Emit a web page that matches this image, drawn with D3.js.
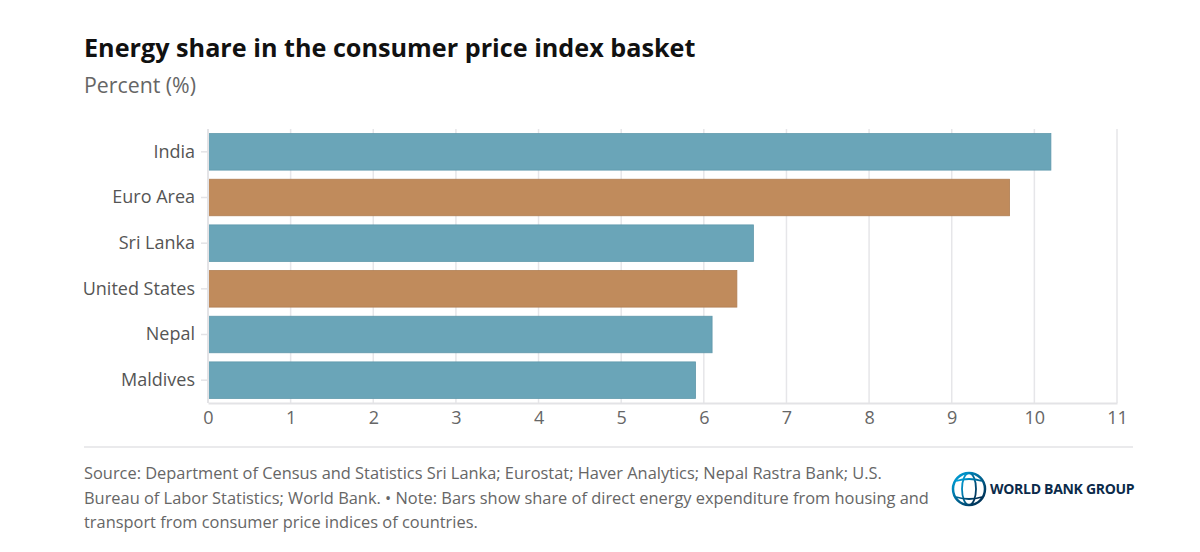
<!DOCTYPE html>
<html><head><meta charset="utf-8">
<script src="https://cdn.jsdelivr.net/npm/d3@7"></script>
<style>
body{margin:0;background:#fff;font-family:"Open Sans",sans-serif;}
</style></head><body>
<svg id="c" width="1200" height="552"></svg>
<script>
const categories = ["India","Euro Area","Sri Lanka","United States","Nepal","Maldives"];
const values = [10.2, 9.7, 6.6, 6.4, 6.1, 5.9];
const groups = ["region","advanced","region","advanced","region","region"];
const xTicks = [0,1,2,3,4,5,6,7,8,9,10,11];
const title = "Energy share in the consumer price index basket";
const subtitle = "Percent (%)";
const footLines = [
 "Source: Department of Census and Statistics Sri Lanka; Eurostat; Haver Analytics; Nepal Rastra Bank; U.S.",
 "Bureau of Labor Statistics; World Bank. \u2022 Note: Bars show share of direct energy expenditure from housing and",
 "transport from consumer price indices of countries."
];

const svg = d3.select("#c");
const colors = {region:"#6aa5b8", advanced:"#c08b5c"};
const strokes = {region:"#5f98ab", advanced:"#b07e52"};

const x = d3.scaleLinear().domain([0,11]).range([208,1117]);
const y = d3.scaleBand().domain(categories).range([129,403]).paddingInner(0.2).paddingOuter(0.1);

svg.append("text").attr("x",84).attr("y",57).attr("font-size",25.2).attr("font-weight",700)
  .attr("fill","#111").text(title);
svg.append("text").attr("x",84).attr("y",93).attr("font-size",21.3).attr("fill","#666").text(subtitle);

// grid
svg.append("g").selectAll("line").data(xTicks).join("line")
  .attr("x1",d=>x(d)).attr("x2",d=>x(d)).attr("y1",129).attr("y2",403)
  .attr("stroke","#e6e6e9").attr("stroke-width",1.5);

// bars
svg.append("g").selectAll("rect").data(categories).join("rect")
  .attr("x",x(0)).attr("y",d=>y(d))
  .attr("width",(d,i)=>x(values[i])-x(0)).attr("height",y.bandwidth())
  .attr("fill",(d,i)=>colors[groups[i]])
  .attr("stroke",(d,i)=>strokes[groups[i]]).attr("stroke-width",0.8);

// x axis
const xa = svg.append("g").attr("transform","translate(0,403)")
  .call(d3.axisBottom(x).tickValues(xTicks).tickSize(0).tickPadding(6).tickFormat(d3.format("d")));
xa.select(".domain").attr("stroke","#e3e3e6").attr("stroke-width",2);
xa.selectAll("text").attr("font-size",18).attr("fill","#666").attr("font-family","Open Sans").attr("dy","0.85em");

// y axis
const ya = svg.append("g").attr("transform","translate(208,0)")
  .call(d3.axisLeft(y).tickSize(7).tickPadding(6));
ya.select(".domain").attr("stroke","#e3e3e6").attr("stroke-width",2).attr("d","M0,129V403");
ya.selectAll(".tick line").attr("stroke","#e3e3e6").attr("stroke-width",1.5);
ya.selectAll("text").attr("font-size",18).attr("fill","#555").attr("font-family","Open Sans");

// footer
svg.append("line").attr("x1",84).attr("x2",1133).attr("y1",447).attr("y2",447)
  .attr("stroke","#e3e3e6").attr("stroke-width",1.5);
svg.append("g").selectAll("text").data(footLines).join("text")
  .attr("x",84).attr("y",(d,i)=>479+i*24.5).attr("font-size",16.4).attr("fill","#666").text(d=>d);

// logo
const lg = svg.append("g").attr("transform","translate(969,489)");
const grad = svg.append("defs").append("linearGradient").attr("id","gg").attr("x1","0").attr("y1","0").attr("x2","1").attr("y2","1");
grad.append("stop").attr("offset","0").attr("stop-color","#00a7e1");
grad.append("stop").attr("offset","1").attr("stop-color","#002244");
lg.append("circle").attr("r",16).attr("fill","none").attr("stroke","url(#gg)").attr("stroke-width",2.5);
lg.append("ellipse").attr("rx",7).attr("ry",16).attr("fill","none").attr("stroke","url(#gg)").attr("stroke-width",1.8);
lg.append("line").attr("x1",-16).attr("x2",16).attr("y1",0).attr("y2",0).attr("stroke","url(#gg)").attr("stroke-width",1.8);
lg.append("path").attr("d","M-13,-8 Q0,-12 13,-8 M-13,8 Q0,12 13,8").attr("fill","none").attr("stroke","url(#gg)").attr("stroke-width",1.8);
svg.append("text").attr("x",990).attr("y",494).attr("font-size",14).attr("font-weight",700)
  .attr("fill","#0b2a4a").attr("letter-spacing","-0.3").text("WORLD BANK GROUP");
</script>
</body></html>
